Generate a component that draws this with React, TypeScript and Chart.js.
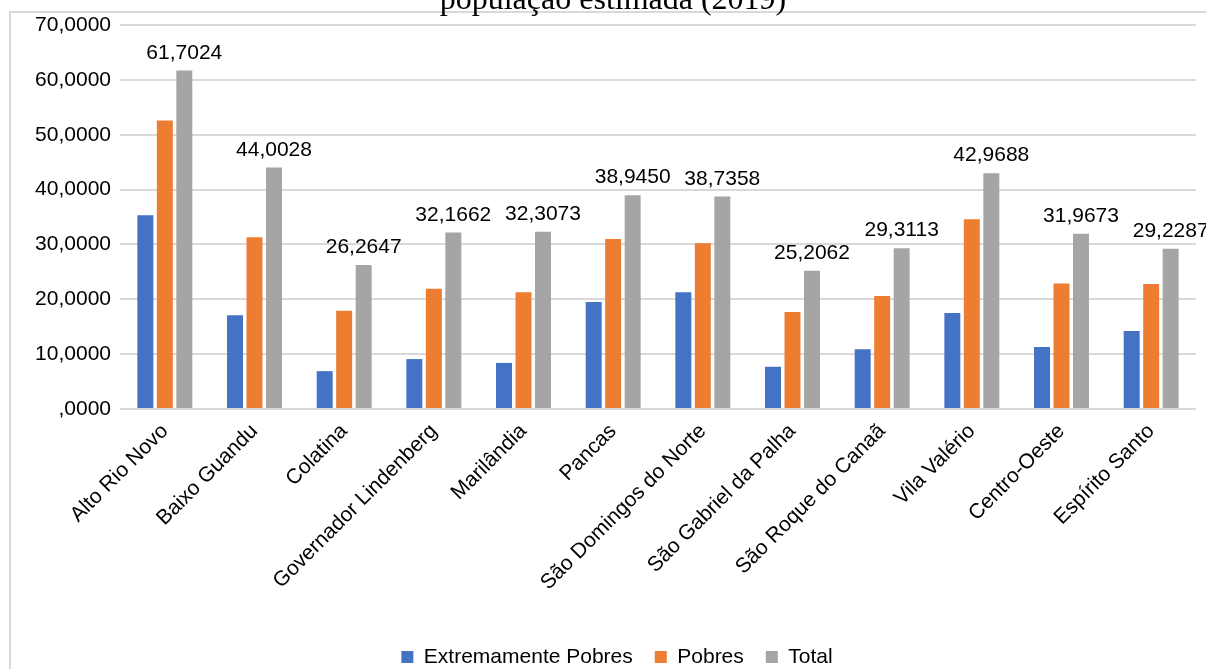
import { useEffect, useRef } from 'react';
import { Chart, registerables } from 'chart.js';

Chart.register(...registerables);

// Municípios da microrregião Centro-Oeste (ES), com o estado para comparação
const municipios = [
  'Alto Rio Novo',
  'Baixo Guandu',
  'Colatina',
  'Governador Lindenberg',
  'Marilândia',
  'Pancas',
  'São Domingos do Norte',
  'São Gabriel da Palha',
  'São Roque do Canaã',
  'Vila Valério',
  'Centro-Oeste',
  'Espírito Santo',
];

const extremamentePobres = [35.3, 17.1, 6.9, 9.1, 8.4, 19.5, 21.3, 7.7, 10.9, 17.5, 11.3, 14.2];
const pobres = [52.6, 31.3, 17.9, 21.9, 21.3, 31.0, 30.2, 17.7, 20.6, 34.6, 22.9, 22.8];
const total = [61.7024, 44.0028, 26.2647, 32.1662, 32.3073, 38.945, 38.7358, 25.2062, 29.3113, 42.9688, 31.9673, 29.2287];

const yTicks = [0, 10, 20, 30, 40, 50, 60, 70];
const titulo = 'população estimada (2019)';

const SANS = "'Liberation Sans', Arial, sans-serif";
const SERIF = "'Liberation Serif', 'Times New Roman', serif";

// 0 -> ",0000"; 61.7024 -> "61,7024"
const formatar = (v: number) => (v === 0 ? ',0000' : v.toFixed(4).replace('.', ','));

const molduraPlugin = {
  id: 'moldura',
  afterLayout(chart: any) {
    // legenda levemente deslocada para a direita
    const lg = chart.legend;
    if (lg) {
      lg.left += 14;
      lg.right += 14;
    }
  },
  beforeDraw(chart: Chart) {
    const { ctx, width, height } = chart;
    ctx.save();
    ctx.strokeStyle = '#d9d9d9';
    ctx.lineWidth = 2;
    ctx.beginPath();
    ctx.moveTo(10, height + 5);
    ctx.lineTo(10, 12);
    ctx.lineTo(width + 5, 12);
    ctx.stroke();
    ctx.restore();
  },
  afterDraw(chart: Chart) {
    const { ctx } = chart;
    ctx.save();
    ctx.font = `32px ${SERIF}`;
    ctx.fillStyle = '#000';
    ctx.textAlign = 'center';
    ctx.textBaseline = 'alphabetic';
    ctx.fillText(titulo, 613, 9);
    ctx.restore();
  },
};

const rotulosPlugin = {
  id: 'rotulosTotal',
  afterDatasetsDraw(chart: Chart) {
    const { ctx } = chart;
    const meta = chart.getDatasetMeta(2);
    ctx.save();
    ctx.font = `21px ${SANS}`;
    ctx.fillStyle = '#000';
    ctx.textAlign = 'center';
    ctx.textBaseline = 'alphabetic';
    meta.data.forEach((bar: any, i: number) => {
      ctx.fillText(formatar(total[i]), bar.x, bar.y - 12);
    });
    ctx.restore();
  },
};

export default function App() {
  const canvasRef = useRef<HTMLCanvasElement | null>(null);

  useEffect(() => {
    if (!canvasRef.current) return;
    const chart = new Chart(canvasRef.current, {
      type: 'bar',
      data: {
        labels: municipios,
        datasets: [
          { label: 'Extremamente Pobres', data: extremamentePobres, backgroundColor: '#4472C4' },
          { label: 'Pobres', data: pobres, backgroundColor: '#ED7D31' },
          { label: 'Total', data: total, backgroundColor: '#A5A5A5' },
        ],
      },
      options: {
        responsive: false,
        animation: false,
        devicePixelRatio: 1,
        categoryPercentage: 0.652,
        barPercentage: 0.82,
        layout: { padding: { top: 25, left: 10, right: 10, bottom: 0 } },
        plugins: {
          title: { display: false },
          tooltip: { enabled: false },
          legend: {
            position: 'bottom',
            maxHeight: 44.5,
            labels: {
              boxWidth: 12,
              boxHeight: 12,
              padding: 22,
              color: '#000',
              font: { family: SANS, size: 21 },
            },
          },
        },
        scales: {
          x: {
            grid: { display: false, drawTicks: false },
            border: { display: false },
            ticks: {
              autoSkip: false,
              maxRotation: 45,
              minRotation: 45,
              padding: 10,
              color: '#000',
              font: { family: SANS, size: 21 },
            },
            afterFit(scale: any) {
              scale.height = 215.5;
            },
          },
          y: {
            min: yTicks[0],
            max: yTicks[yTicks.length - 1],
            grid: { color: '#d9d9d9', lineWidth: 2, drawTicks: false },
            border: { display: false },
            afterBuildTicks(scale: any) {
              scale.ticks = yTicks.map((v) => ({ value: v }));
            },
            ticks: {
              padding: 9,
              color: '#000',
              font: { family: SANS, size: 21 },
              callback: (v: any) => formatar(Number(v)),
            },
            afterFit(scale: any) {
              scale.width = 110;
            },
          },
        },
      },
      plugins: [molduraPlugin, rotulosPlugin],
    });
    return () => chart.destroy();
  }, []);

  return (
    <div style={{ position: 'fixed', left: 0, top: 0, width: 1206, height: 669, background: '#fff' }}>
      <canvas ref={canvasRef} width={1206} height={669} style={{ display: 'block' }} />
    </div>
  );
}
